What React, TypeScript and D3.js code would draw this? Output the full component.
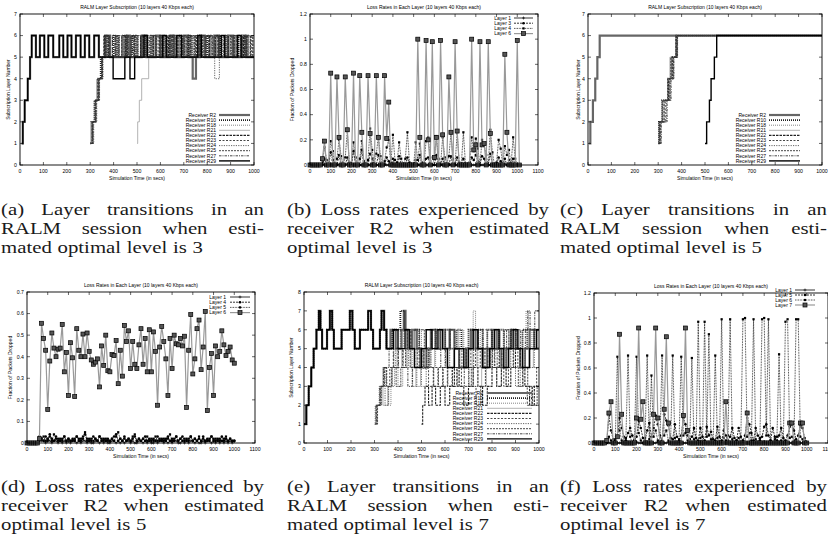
import React from "react";
import * as d3 from "d3";

// ---------------- captions ----------------
const captionsTop = [
  ["(a) Layer transitions in an", "RALM session when esti-", "mated optimal level is 3"],
  ["(b) Loss rates experienced by", "receiver R2 when estimated", "optimal level is 3"],
  ["(c) Layer transitions in an", "RALM session when esti-", "mated optimal level is 5"],
];
const captionsBottom = [
  ["(d) Loss rates experienced by", "receiver R2 when estimated", "optimal level is 5"],
  ["(e) Layer transitions in an", "RALM session when esti-", "mated optimal level is 7"],
  ["(f) Loss rates experienced by", "receiver R2 when estimated", "optimal level is 7"],
];

const subscriptionTitle = "RALM Layer Subscription (10 layers 40 Kbps each)";
const lossTitle = "Loss Rates in Each Layer (10 layers 40 Kbps each)";
const receiverNames = [
  "Receiver R2", "Receiver R10", "Receiver R18", "Receiver R21", "Receiver R22",
  "Receiver R23", "Receiver R24", "Receiver R25", "Receiver R27", "Receiver R29",
];

// ---------------- (a) layer steps: [time, layer] ----------------
const aR2 = [[7,1],[12,2],[20,3],[33,4],[43,5],[50,6],[68,5],[85,6],[104,5],[121,6],[142,5],[168,6],[185,5],[203,6],[220,5],[239,6],[259,5],[277,6],[296,5],[317,6],[337,5],[365,6],[385,5],[455,6],[470,5],[520,6],[540,5],[580,6],[600,5],[640,6],[660,5],[700,6],[720,5],[738,4],[752,5],[770,6],[790,5],[830,6],[850,5],[890,6],[910,5],[950,6],[965,5],[1000,5]];
const aR10 = [[300,1],[305,2],[318,3],[330,4],[345,5],[360,6],[375,5],[400,6],[415,5],[440,6],[455,5],[480,6],[495,5],[520,6],[535,5],[560,6],[575,5],[600,6],[615,5],[640,6],[655,5],[680,6],[695,5],[720,6],[735,5],[760,6],[775,5],[800,6],[815,5],[840,6],[855,5],[880,6],[895,5],[920,6],[935,5],[960,6],[975,5],[1000,5]];
const aR18 = [[305,1],[310,2],[322,3],[335,4],[350,5],[370,6],[385,5],[410,6],[425,5],[450,6],[465,5],[490,6],[505,5],[530,6],[545,5],[570,6],[585,5],[610,6],[625,5],[650,6],[665,5],[690,6],[705,5],[730,6],[745,5],[770,6],[785,5],[810,6],[825,5],[850,6],[865,5],[890,6],[905,5],[930,6],[945,5],[970,6],[985,5],[1000,5]];
const aR21 = [[500,1],[503,2],[510,3],[520,4],[550,5],[560,6],[575,5],[620,6],[635,5],[690,6],[705,5],[750,6],[765,5],[820,6],[835,5],[880,6],[895,5],[940,6],[955,5],[1000,5]];
const aR22 = [[308,1],[312,2],[325,3],[338,4],[352,5],[362,6],[378,5],[395,6],[410,5],[435,6],[450,5],[475,6],[490,5],[515,6],[530,5],[555,6],[570,5],[595,6],[610,5],[635,6],[650,5],[675,6],[690,5],[715,6],[730,5],[755,6],[770,5],[795,6],[810,5],[835,6],[850,5],[875,6],[890,5],[915,6],[930,5],[955,6],[970,5],[995,6],[1000,6]];
const aR23 = [[302,1],[308,2],[320,3],[332,4],[348,5],[358,6],[372,5],[420,6],[435,5],[460,6],[475,5],[500,6],[515,5],[545,6],[560,5],[590,6],[605,5],[630,6],[645,5],[670,6],[685,5],[710,6],[725,5],[750,6],[765,5],[790,6],[805,5],[830,6],[845,5],[870,6],[885,5],[910,6],[925,5],[950,6],[965,5],[990,6],[1000,6]];
const aR24 = [[310,1],[315,2],[328,3],[340,4],[355,5],[380,6],[395,5],[425,6],[440,5],[465,6],[480,5],[505,6],[520,5],[550,6],[565,5],[605,6],[620,5],[645,6],[660,5],[700,6],[715,5],[735,6],[750,5],[790,6],[805,5],[832,4],[852,5],[870,6],[885,5],[910,6],[925,5],[960,6],[975,5],[1000,5]];
const aR25 = [[304,1],[309,2],[323,3],[336,4],[350,5],[366,6],[381,5],[405,6],[420,5],[445,6],[460,5],[485,6],[500,5],[525,6],[540,5],[565,6],[580,5],[615,6],[630,5],[655,6],[670,5],[695,6],[710,5],[745,6],[760,5],[780,6],[795,5],[820,6],[835,5],[860,6],[875,5],[900,6],[915,5],[945,6],[960,5],[985,6],[1000,6]];
const aR27 = [[306,1],[311,2],[324,3],[337,4],[351,5],[368,6],[383,5],[408,6],[423,5],[448,6],[463,5],[488,6],[503,5],[528,6],[543,5],[568,6],[583,5],[608,6],[623,5],[648,6],[663,5],[688,6],[703,5],[728,6],[743,5],[768,6],[783,5],[808,6],[823,5],[848,6],[863,5],[888,6],[903,5],[928,6],[943,5],[968,6],[983,5],[1000,5]];
const aR29 = [[7,1],[12,2],[20,3],[33,4],[43,5],[50,6],[68,5],[85,6],[104,5],[121,6],[142,5],[168,6],[185,5],[203,6],[220,5],[239,6],[259,5],[277,6],[296,5],[317,6],[337,5],[398,4],[448,5],[470,4],[490,5],[530,6],[545,5],[610,6],[625,5],[670,6],[690,5],[760,6],[775,5],[860,6],[875,5],[930,6],[945,5],[1000,5]];

// ---------------- (c) layer steps ----------------
const cR2 = [[4,1],[10,2],[21,3],[31,4],[40,5],[50,6],[1000,6]];
const cR10 = [[300,1],[303,2],[316,3],[343,4],[356,5],[378,6],[1000,6]];
const cR18 = [[302,1],[305,2],[320,3],[348,4],[362,5],[380,6],[1000,6]];
const cR21 = [[303,1],[306,2],[316,3],[340,4],[350,5],[375,6],[1000,6]];
const cR22 = [[304,1],[307,2],[325,3],[345,4],[360,5],[376,6],[1000,6]];
const cR23 = [[306,1],[309,2],[330,3],[350,4],[365,5],[381,6],[1000,6]];
const cR24 = [[308,1],[311,2],[335,3],[352,4],[366,5],[383,6],[1000,6]];
const cR25 = [[301,1],[304,2],[318,3],[340,4],[354,5],[377,6],[1000,6]];
const cR27 = [[310,1],[313,2],[338,3],[355,4],[367,5],[382,6],[1000,6]];
const cR29 = [[500,1],[507,2],[519,3],[526,4],[540,5],[550,6],[1000,6]];

// ---------------- (e) layer steps ----------------
const eR2 = [[0,1],[10,2],[20,3],[31,4],[41,5],[53,6],[63,7],[70,6],[77,5],[98,6],[110,7],[120,6],[127,5],[160,6],[195,7],[206,6],[216,5],[238,6],[273,7],[285,6],[294,5],[323,6],[330,7],[341,6],[351,5],[368,6],[390,5],[415,6],[425,7],[432,6],[440,5],[460,6],[480,5],[495,4],[520,5],[540,6],[560,5],[580,6],[600,5],[620,6],[640,5],[660,4],[690,5],[710,6],[730,5],[760,4],[780,5],[800,6],[820,5],[840,4],[860,5],[880,6],[900,5],[920,4],[940,5],[960,6],[980,5],[1000,5]];
const eR10 = [[0,1],[10,2],[20,3],[31,4],[41,5],[53,6],[63,7],[70,6],[77,5],[98,6],[110,7],[120,6],[127,5],[160,6],[195,7],[206,6],[216,5],[238,6],[273,7],[285,6],[294,5],[323,6],[330,7],[341,6],[351,5],[375,6],[410,7],[428,6],[445,5],[470,6],[490,5],[510,4],[530,5],[560,6],[580,5],[600,6],[620,5],[650,6],[670,5],[700,6],[720,5],[740,6],[760,5],[780,6],[800,5],[830,6],[850,5],[880,6],[900,5],[930,6],[950,5],[980,6],[1000,6]];
const eR18 = [[300,1],[303,2],[320,3],[335,4],[345,3],[360,2],[370,3],[385,4],[400,3],[420,4],[440,5],[460,4],[480,5],[500,6],[520,5],[540,4],[560,5],[580,6],[600,5],[620,6],[640,5],[660,6],[680,5],[700,6],[720,7],[730,6],[750,5],[770,4],[790,5],[810,6],[830,5],[850,6],[870,5],[890,6],[910,5],[930,6],[945,7],[955,6],[970,5],[990,6],[1000,6]];
const eR21 = [[304,1],[307,2],[324,3],[336,2],[356,3],[376,4],[396,5],[416,4],[436,5],[456,4],[476,3],[496,4],[516,5],[536,4],[556,5],[576,6],[596,5],[616,4],[636,5],[656,6],[676,5],[696,4],[716,5],[736,4],[756,3],[776,4],[796,5],[816,6],[836,5],[856,4],[876,5],[896,6],[916,5],[936,4],[956,5],[976,4],[1000,4]];
const eR22 = [[500,1],[505,2],[515,3],[530,2],[545,3],[560,2],[580,3],[600,2],[620,3],[640,4],[660,3],[680,2],[700,3],[720,4],[740,3],[760,2],[780,3],[800,4],[820,3],[840,4],[860,3],[880,4],[900,5],[920,4],[940,3],[960,2],[980,3],[1000,3]];
const eR23 = [[305,1],[308,2],[325,3],[340,4],[350,3],[365,4],[380,5],[400,4],[420,5],[440,6],[455,5],[470,4],[490,5],[510,4],[530,3],[550,4],[570,3],[590,4],[610,3],[630,4],[650,3],[670,4],[690,5],[710,4],[730,5],[750,4],[770,5],[790,4],[810,5],[830,4],[850,3],[870,4],[890,5],[910,4],[930,3],[950,2],[970,3],[990,4],[1000,4]];
const eR24 = [[308,1],[311,2],[330,3],[345,2],[360,3],[375,4],[390,5],[410,6],[425,5],[445,4],[460,3],[480,4],[500,3],[520,4],[540,5],[560,6],[580,5],[600,4],[620,5],[640,4],[660,5],[680,4],[700,3],[720,4],[740,5],[760,6],[780,5],[800,4],[820,3],[840,4],[860,5],[880,4],[900,3],[920,4],[940,5],[960,4],[980,5],[1000,5]];
const eR25 = [[310,1],[313,2],[328,3],[338,4],[352,3],[372,4],[392,3],[412,4],[432,5],[452,4],[472,5],[492,6],[512,5],[532,4],[552,3],[572,4],[592,3],[612,4],[632,3],[652,4],[672,5],[692,4],[712,3],[732,2],[752,3],[772,4],[792,5],[812,4],[832,5],[852,6],[872,5],[892,4],[912,3],[932,4],[952,3],[972,2],[992,3],[1000,3]];
const eR27 = [[302,1],[306,2],[322,3],[342,4],[362,5],[382,4],[402,5],[422,4],[442,3],[462,4],[482,5],[502,4],[522,5],[542,6],[562,5],[582,4],[602,5],[622,6],[642,5],[662,4],[682,3],[702,4],[722,5],[742,6],[762,5],[782,4],[802,5],[822,4],[842,5],[862,6],[882,5],[902,6],[922,5],[942,6],[952,7],[962,6],[982,7],[1000,7]];
const eR29 = [[0,1],[10,2],[20,3],[31,4],[41,5],[53,6],[63,7],[70,6],[77,5],[98,6],[110,7],[120,6],[127,5],[160,6],[195,7],[206,6],[216,5],[238,6],[273,7],[285,6],[294,5],[323,6],[330,7],[341,6],[351,5],[380,6],[400,5],[430,6],[450,5],[470,4],[500,5],[520,6],[545,5],[570,6],[590,5],[610,4],[640,5],[680,4],[700,5],[720,6],[740,5],[760,4],[790,5],[810,6],[830,5],[850,4],[870,5],[890,6],[910,5],[930,4],[960,5],[990,6],[1000,6]];

// ---------------- loss rates, one value every 10 s ----------------
const bNames = ["Layer 1", "Layer 3", "Layer 4", "Layer 6"];
const bLayer1 = [0,0,0,0,0,0,0.01,0,0,0.01,0,0,0,0.01,0,0,0,0,0.01,0,0,0,0.01,0,0,0,0,0.01,0,0,0,0.01,0,0,0,0,0.01,0,0,0,0.01,0,0,0,0,0.01,0,0,0,0.01,0,0,0,0,0.01,0,0,0,0.01,0,0,0,0,0.01,0,0,0,0.01,0,0,0,0,0.01,0,0,0,0.01,0,0,0,0,0.01,0,0,0,0.01,0,0,0,0,0.01,0,0,0,0.01,0,0,0,0,0.01,0,0];
const bLayer3 = [0,0,0,0,0,0,0,0.05,0,0,0.10,0.04,0,0,0.08,0,0,0,0.06,0,0,0.11,0,0,0,0.12,0,0,0,0.09,0.05,0,0,0.08,0,0,0,0.06,0.03,0,0.05,0,0,0.07,0,0,0,0.06,0,0,0,0.04,0,0.08,0,0,0.05,0.06,0,0,0,0.08,0,0,0.05,0,0,0,0.07,0,0,0.06,0,0,0.05,0,0,0,0.06,0.04,0.08,0.03,0,0.07,0.05,0,0,0.09,0,0,0,0.06,0.03,0,0.05,0,0.04,0,0.05,0,0,0];
const bLayer4 = [0,0,0,0,0,0,0.02,0.14,0.04,0,0.19,0.11,0,0.05,0.20,0.07,0,0.06,0.27,0.02,0,0.18,0.06,0,0.05,0.19,0.03,0,0.04,0.29,0.12,0,0.09,0.23,0.07,0,0.03,0.14,0.20,0,0.24,0.04,0.02,0.18,0.05,0,0.05,0.26,0.02,0,0,0.18,0.04,0.17,0.02,0,0.19,0.22,0.06,0,0.05,0.23,0.05,0,0.22,0.06,0.01,0.07,0.25,0.05,0,0.26,0.02,0,0.26,0.01,0,0.02,0.22,0.11,0.21,0.13,0,0.20,0.16,0.08,0,0.28,0.10,0,0.02,0.20,0.13,0,0.15,0.08,0.12,0,0.22,0.05,0,0];
const bLayer6 = [0,0,0,0,0,0,0.05,0.19,0,0,0.73,0,0,0.70,0.22,0,0,0.70,0.28,0,0,0.73,0,0,0.71,0.26,0,0,0.71,0.25,0,0,0.71,0.22,0,0,0.71,0.21,0.50,0,0,0,0,0,0,0,0,0,0,0,0,0,1.0,0.22,0,0,0.99,0.20,0,0.98,0.06,0.22,0,0.99,0.24,0,0,0.70,0.26,0,0.98,0.27,0,0,0,0,0,0,1.0,0.12,0.16,0,0.98,0.16,0.17,0,0.98,0.25,0,0,0,0,0,0,0.88,0.26,0,0,0,0,0.99,0];

const dNames = ["Layer 1", "Layer 4", "Layer 5", "Layer 6"];
const dLayer1 = [0,0,0,0,0,0,0.02,0.01,0.01,0,0.02,0.01,0,0.01,0.01,0,0.01,0,0.01,0,0.01,0,0.01,0.01,0,0.01,0,0.01,0.01,0,0.01,0,0,0.01,0.01,0,0.01,0,0.01,0,0,0.01,0.01,0,0.01,0,0.01,0,0.01,0.01,0,0.01,0,0,0.01,0.01,0,0.01,0,0.01,0,0,0.01,0,0.01,0.01,0,0.01,0,0.01,0,0.01,0.01,0,0,0.01,0,0.01,0,0.01,0.01,0,0.01,0,0,0.01,0,0.01,0.01,0,0.01,0,0.01,0,0.01,0,0.01,0,0.01,0,0.01];
const dLayer4 = [0,0,0,0,0,0,0.03,0.02,0.01,0.03,0.01,0.04,0.02,0.01,0.03,0.02,0.01,0.02,0.03,0.01,0.02,0.01,0.02,0.01,0.03,0.02,0.01,0.02,0.04,0.01,0.02,0.01,0.03,0.02,0.01,0.03,0.01,0.02,0.01,0.02,0.01,0.02,0.03,0.04,0.01,0.02,0.01,0.03,0.01,0.02,0.01,0.02,0.03,0.01,0.02,0.01,0.02,0.03,0.01,0.02,0.01,0.02,0.01,0.03,0.01,0.02,0.01,0.02,0.03,0.01,0.02,0.01,0.03,0.01,0.02,0.03,0.01,0.02,0.01,0.03,0.01,0.02,0.01,0.02,0.01,0.03,0.01,0.02,0.01,0.03,0.02,0.01,0.02,0.01,0.03,0.01,0.02,0.01,0.02,0.01,0.01];
const dLayer5 = [0,0,0,0,0,0,0.01,0.02,0.03,0.01,0.02,0.03,0.01,0.04,0.02,0.01,0.02,0.01,0.03,0.01,0.02,0.01,0.01,0.02,0.03,0.01,0.02,0.03,0.05,0.02,0.01,0.02,0.01,0.02,0.01,0.03,0.02,0.01,0.02,0.01,0.01,0.02,0.01,0.03,0.05,0.02,0.01,0.02,0.01,0.02,0.01,0.03,0.04,0.01,0.02,0.01,0.02,0.01,0.03,0.01,0.02,0.01,0.03,0.01,0.02,0.01,0.02,0.01,0.02,0.04,0.01,0.02,0.03,0.01,0.02,0.01,0.02,0.01,0.02,0.03,0.01,0.02,0.01,0.03,0.01,0.02,0.01,0.01,0.02,0.03,0.01,0.02,0.01,0.02,0.01,0.02,0.03,0.01,0.02,0.01,0.01];
const dLayer6 = [0,0,0,0,0,0,0.02,0.555,0.485,0.43,0.155,0.38,0.51,0.44,0.40,0.435,0.44,0.55,0.33,0.42,0.22,0.465,0.395,0.215,0.53,0.43,0.40,0.505,0.40,0.51,0.425,0.385,0.365,0.375,0.39,0.26,0.45,0.36,0.50,0.335,0.33,0.41,0.405,0.475,0.275,0.43,0.31,0.545,0.47,0.52,0.345,0.47,0.365,0.345,0.455,0.53,0.365,0.485,0.33,0.525,0.33,0.515,0.425,0.175,0.445,0.54,0.47,0.39,0.22,0.485,0.345,0.50,0.46,0.455,0.485,0.45,0.495,0.165,0.43,0.595,0.32,0.39,0.53,0.57,0.34,0.445,0.61,0.15,0.35,0.415,0.22,0.45,0.40,0.425,0.52,0.455,0.405,0.425,0.445,0.385,0.37];

const fNames = ["Layer 1", "Layer 5", "Layer 6", "Layer 7"];
const fLayer1 = [0,0,0,0,0,0,0.01,0,0,0,0.01,0,0,0,0,0.01,0,0,0,0,0.01,0,0,0,0,0.01,0,0,0,0,0.01,0,0,0,0,0.01,0,0,0,0,0.01,0,0,0,0,0.01,0,0,0,0,0.01,0,0,0,0,0.01,0,0,0,0,0.01,0,0,0,0,0.01,0,0,0,0,0.01,0,0,0,0,0.01,0,0,0,0,0.01,0,0,0,0,0.01,0,0,0,0,0.01,0,0,0,0,0.01,0,0,0,0,0];
const fLayer5 = [0,0,0,0,0,0,0,0.22,0.1,0.03,0.02,0.05,0.2,0.12,0.05,0.02,0.08,0.12,0.06,0.02,0.05,0.18,0.12,0.04,0.02,0.1,0.16,0.05,0.12,0.22,0.15,0.06,0.02,0.23,0.18,0.14,0.04,0.03,0.15,0.05,0.02,0.06,0.2,0.15,0.06,0.03,0.05,0.12,0.04,0.02,0.12,0.05,0.02,0.13,0.06,0.09,0.03,0.02,0.13,0.05,0.02,0.1,0.06,0.02,0.05,0.12,0.04,0.02,0.12,0.05,0.02,0.06,0.2,0.15,0.08,0.02,0.12,0.06,0.02,0.05,0.13,0.15,0.06,0.02,0.12,0.05,0.02,0.06,0.12,0.04,0.02,0.06,0.13,0.15,0.1,0.03,0.06,0.14,0.12,0.04,0];
const fLayer6 = [0,0,0,0,0,0,0,0.05,0.02,0,0.03,0.69,0.1,0.02,0,0.04,0.70,0.05,0,0.02,0.69,0.08,0.02,0,0.04,0.70,0.03,0.54,0.05,0.1,0.02,0,0.70,0.06,0.1,0.02,0,0.70,0.04,0,0.03,0.69,0.06,0.08,0.02,0,0.68,0.03,0,0.97,0.04,0,0.97,0.05,0.87,0.03,0,0.70,0.04,0,0.99,0.04,0.02,0.06,0.99,0.03,0,0.02,0.04,0,0.99,1.0,0.05,0.08,0.02,0.99,0.03,0,0.04,0.99,1.0,0.06,0.99,0.02,0,0.03,0.05,0.71,0.02,0,0.97,0.99,0.04,0.05,0.02,0.99,0.99,0.05,0.03,0,0];
const fLayer7 = [0,0,0,0,0,0,0.02,0.24,0.33,0,0,0.05,0.87,0.23,0,0,0,0,0,0,0.2,0.92,0.19,0.33,0,0,0,0,0.23,0.92,0.2,0,0,0.27,0.85,0.16,0,0,0,0,0,0,0.22,0.92,0.1,0,0,0,0,0,0,0,0,0,0,0,0,0,0,0,0,0,0.33,0,0,0,0,0,0,0,0,0,0.24,0,0,0,0,0,0,0,0,0,0,0,0,0,0,0,0,0,0,0,0.16,0.16,0,0,0,0.16,0.16,0,0];

// ---------------- drawing helpers ----------------
const SANS = "'Liberation Sans', Arial, sans-serif";
const SERIF = "'Liberation Serif', 'Times New Roman', serif";

const RECV_STYLE = [
  { stroke: "#666", w: 2.2, dash: "" },
  { stroke: "#222", w: 1.8, dash: "1,1" },
  { stroke: "#555", w: 0.9, dash: "0.8,1.2" },
  { stroke: "#aaa", w: 0.9, dash: "" },
  { stroke: "#222", w: 1.1, dash: "2.5,1" },
  { stroke: "#333", w: 0.9, dash: "2,1.5" },
  { stroke: "#555", w: 0.9, dash: "1.2,1.2" },
  { stroke: "#333", w: 0.9, dash: "2,1" },
  { stroke: "#333", w: 0.9, dash: "2.5,1,1,1" },
  { stroke: "#000", w: 1.4, dash: "" },
];

const LAYER_STYLE = [
  { stroke: "#000", w: 0.8, dash: "", marker: "plus" },
  { stroke: "#000", w: 0.8, dash: "2,1", marker: "circle" },
  { stroke: "#000", w: 0.8, dash: "0.8,0.8", marker: "smallsq" },
  { stroke: "#999", w: 1.2, dash: "", marker: "bigsq" },
];

const fmt = (v: number) => String(Math.round(v * 10) / 10);

function Frame({ box, x, y, xTicks, yTicks, title, yLabel, yLabelX }: any) {
  const { left, right, top, bottom } = box;
  const fs = 5.2;
  return (
    <g fontFamily={SANS} fill="#000">
      {xTicks.map((t: number) => (
        <g key={"x" + t}>
          <line x1={x(t)} x2={x(t)} y1={bottom} y2={bottom - 3} stroke="#000" strokeWidth={0.6} />
          <line x1={x(t)} x2={x(t)} y1={top} y2={top + 3} stroke="#000" strokeWidth={0.6} />
          <text x={x(t)} y={bottom + 7.5} fontSize={fs} textAnchor="middle">{t}</text>
        </g>
      ))}
      {yTicks.map((t: number) => (
        <g key={"y" + t}>
          <line x1={left} x2={left + 3} y1={y(t)} y2={y(t)} stroke="#000" strokeWidth={0.6} />
          <line x1={right} x2={right - 3} y1={y(t)} y2={y(t)} stroke="#000" strokeWidth={0.6} />
          <text x={left - 3} y={y(t)} dy="0.35em" fontSize={fs} textAnchor="end">{fmt(t)}</text>
        </g>
      ))}
      <rect x={left} y={top} width={right - left} height={bottom - top} fill="none" stroke="#000" strokeWidth={0.9} />
      <text x={(left + right) / 2} y={top - 5.5} fontSize={5} textAnchor="middle">{title}</text>
      <text x={(left + right) / 2} y={bottom + 14.5} fontSize={5} textAnchor="middle">Simulation Time (in secs)</text>
      <text transform={`translate(${yLabelX},${(top + bottom) / 2}) rotate(-90)`} dy="0.35em" fontSize={5} textAnchor="middle">{yLabel}</text>
    </g>
  );
}

function StepPanel({ box, yMax, series, legend, yLabelX }: any) {
  const x = d3.scaleLinear().domain([0, 1000]).range([box.left, box.right]);
  const y = d3.scaleLinear().domain([0, yMax]).range([box.bottom, box.top]);
  const line = d3.line<number[]>().x((d) => x(d[0])).y((d) => y(d[1])).curve(d3.curveStepAfter);
  return (
    <g>
      {series.map((s: number[][], i: number) => {
        const st = RECV_STYLE[i];
        return <path key={i} d={line(s) || ""} fill="none" stroke={st.stroke} strokeWidth={st.w} strokeDasharray={st.dash} />;
      })}
      {receiverNames.map((n, i) => {
        const st = RECV_STYLE[i];
        const ry = legend.y0 + i * legend.dy;
        return (
          <g key={n}>
            <text x={legend.textX} y={ry} dy="0.35em" fontSize={5} fontFamily={SANS} textAnchor="end">{n}</text>
            <line x1={legend.x0} x2={legend.x1} y1={ry} y2={ry} stroke={st.stroke} strokeWidth={st.w} strokeDasharray={st.dash} />
          </g>
        );
      })}
      <Frame box={box} x={x} y={y} xTicks={d3.range(0, 1001, 100)} yTicks={d3.range(0, yMax + 1, 1)}
        title={subscriptionTitle} yLabel="Subscription Layer Number" yLabelX={yLabelX} />
    </g>
  );
}

function Marker({ kind, cx, cy }: any) {
  if (kind === "plus") return <path d={`M${cx - 1.5},${cy}H${cx + 1.5}M${cx},${cy - 1.5}V${cy + 1.5}`} stroke="#000" strokeWidth={0.6} />;
  if (kind === "circle") return <circle cx={cx} cy={cy} r={1.3} fill="#000" />;
  if (kind === "smallsq") return <rect x={cx - 1.1} y={cy - 1.1} width={2.2} height={2.2} fill="#000" />;
  return <rect x={cx - 2} y={cy - 2} width={4} height={4} fill="#555" stroke="#000" strokeWidth={0.7} />;
}

function LossPanel({ box, yMax, yStep, layers, names, legend, yLabelX }: any) {
  const x = d3.scaleLinear().domain([0, 1100]).range([box.left, box.right]);
  const y = d3.scaleLinear().domain([0, yMax]).range([box.bottom, box.top]);
  const line = d3.line<number>().x((_, i) => x(i * 10)).y((d) => y(d));
  return (
    <g>
      {layers.map((vals: number[], k: number) => {
        const st = LAYER_STYLE[k];
        return (
          <g key={k}>
            <path d={line(vals) || ""} fill="none" stroke={st.stroke} strokeWidth={st.w} strokeDasharray={st.dash} />
            {vals.map((v, i) => <Marker key={i} kind={st.marker} cx={x(i * 10)} cy={y(v)} />)}
          </g>
        );
      })}
      {names.map((n: string, k: number) => {
        const st = LAYER_STYLE[k];
        const ry = legend.y0 + k * legend.dy;
        return (
          <g key={n}>
            <text x={legend.textX} y={ry} dy="0.35em" fontSize={5} fontFamily={SANS} textAnchor="end">{n}</text>
            <line x1={legend.x0} x2={legend.x1} y1={ry} y2={ry} stroke={st.stroke} strokeWidth={st.w} strokeDasharray={st.dash} />
            <Marker kind={st.marker} cx={(legend.x0 + legend.x1) / 2} cy={ry} />
          </g>
        );
      })}
      <Frame box={box} x={x} y={y} xTicks={d3.range(0, 1101, 100)} yTicks={d3.range(0, yMax + yStep / 2, yStep)}
        title={lossTitle} yLabel="Fraction of Packets Dropped" yLabelX={yLabelX} />
    </g>
  );
}

let measureCtx: CanvasRenderingContext2D | null = null;
function measure(s: string, font: string) {
  if (!measureCtx) measureCtx = document.createElement("canvas").getContext("2d");
  measureCtx!.font = font;
  return measureCtx!.measureText(s).width;
}

function Caption({ x, y0, lines, width }: any) {
  const fs = 16, sx = 1.3, lh = 19;
  const font = `${fs}px 'Liberation Serif'`;
  const space = measure(" ", font);
  return (
    <g>
      {lines.map((s: string, li: number) => {
        const words = s.split(" ");
        const widths = words.map((w) => measure(w, font));
        const total = d3.sum(widths);
        const last = li === lines.length - 1;
        const gap = last ? space * 1.1 : (width / sx - total) / (words.length - 1);
        let cx = 0;
        return (
          <g key={li} transform={`translate(${x},${y0 + li * lh}) scale(${sx},1)`}>
            {words.map((w, k) => {
              const px = cx;
              cx += widths[k] + gap;
              return <text key={k} x={px} y={0} fontFamily={SERIF} fontSize={fs} fill="#1a1a1a">{w}</text>;
            })}
          </g>
        );
      })}
    </g>
  );
}

export default function App() {
  const A = { left: 20, right: 254, top: 14, bottom: 165 };
  const B = { left: 310, right: 538, top: 14, bottom: 165 };
  const C = { left: 588, right: 822, top: 14, bottom: 165 };
  const D = { left: 27, right: 255, top: 292, bottom: 443 };
  const E = { left: 304, right: 539, top: 292, bottom: 443 };
  const F = { left: 594, right: 828, top: 293, bottom: 443 };
  const colX = [1, 287, 560];
  const colW = [263, 262, 267];
  return (
    <svg width={828} height={545} style={{ position: "absolute", left: 0, top: 0, background: "#fff" }}>
      <StepPanel box={A} yMax={7} yLabelX={8}
        series={[aR2, aR10, aR18, aR21, aR22, aR23, aR24, aR25, aR27, aR29]}
        legend={{ textX: 216, x0: 219, x1: 250, y0: 115, dy: 5.1 }} />
      <LossPanel box={B} yMax={1.2} yStep={0.2} yLabelX={292}
        layers={[bLayer1, bLayer3, bLayer4, bLayer6]} names={bNames}
        legend={{ textX: 511, x0: 514, x1: 533, y0: 18, dy: 5.2 }} />
      <StepPanel box={C} yMax={7} yLabelX={578}
        series={[cR2, cR10, cR18, cR21, cR22, cR23, cR24, cR25, cR27, cR29]}
        legend={{ textX: 766, x0: 769, x1: 800, y0: 115, dy: 5.1 }} />
      <LossPanel box={D} yMax={0.7} yStep={0.1} yLabelX={10}
        layers={[dLayer1, dLayer4, dLayer5, dLayer6]} names={dNames}
        legend={{ textX: 226, x0: 230, x1: 250, y0: 297, dy: 5.2 }} />
      <StepPanel box={E} yMax={8} yLabelX={291}
        series={[eR2, eR10, eR18, eR21, eR22, eR23, eR24, eR25, eR27, eR29]}
        legend={{ textX: 483, x0: 487, x1: 532, y0: 393, dy: 5.1 }} />
      <LossPanel box={F} yMax={1.2} yStep={0.2} yLabelX={578}
        layers={[fLayer1, fLayer5, fLayer6, fLayer7]} names={fNames}
        legend={{ textX: 792, x0: 795, x1: 815, y0: 290, dy: 5 }} />
      {captionsTop.map((c, i) => <Caption key={"t" + i} x={colX[i]} y0={215} width={colW[i]} lines={c} />)}
      {captionsBottom.map((c, i) => <Caption key={"b" + i} x={colX[i]} y0={492} width={colW[i]} lines={c} />)}
    </svg>
  );
}
